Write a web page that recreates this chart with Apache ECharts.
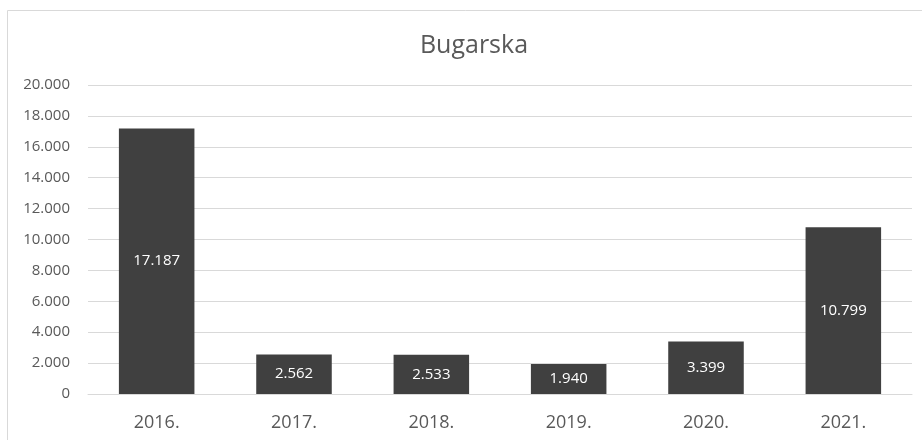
<!DOCTYPE html>
<html>
<head>
<meta charset="utf-8">
<script src="https://cdn.jsdelivr.net/npm/echarts@6/dist/echarts.min.js"></script>
<style>
  html, body { margin: 0; padding: 0; background: #fff; }
  #chart { width: 922px; height: 440px; }
</style>
</head>
<body>
<div id="chart"></div>
<script>
const years = ["2016.", "2017.", "2018.", "2019.", "2020.", "2021."];
const values = [17187, 2562, 2533, 1940, 3399, 10799];
const chartTitle = "Bugarska";

// 12345 -> "12.345"
function fmt(v) {
  return String(v).replace(/\B(?=(\d{3})+(?!\d))/g, ".");
}

var myChart = echarts.init(document.getElementById("chart"));
let option = {
  animation: false,
  textStyle: { fontFamily: "Open Sans" },
  title: {
    text: chartTitle,
    left: 469,
    top: 28,
    textAlign: "center",
    textStyle: { fontFamily: "Open Sans", fontSize: 25, fontWeight: "normal", color: "#595959" },
  },
  graphic: [
    {
      type: "rect",
      shape: { x: 7.5, y: 10.5, width: 930, height: 450 },
      style: { fill: "none", stroke: "#d9d9d9", lineWidth: 1 },
      silent: true,
    },
  ],
  grid: { left: 88, right: 10, top: 85, bottom: 46 },
  xAxis: {
    type: "category",
    data: years,
    axisLine: { lineStyle: { color: "#d9d9d9" } },
    axisTick: { show: false },
    axisLabel: { color: "#595959", fontSize: 18, fontFamily: "Open Sans", margin: 20 },
  },
  yAxis: {
    type: "value",
    min: 0,
    max: 20000,
    interval: 2000,
    axisLine: { show: false },
    axisTick: { show: false },
    splitLine: { lineStyle: { color: "#d9d9d9" } },
    axisLabel: {
      color: "#595959",
      fontSize: 15,
      fontFamily: "Open Sans",
      margin: 18,
      formatter: (v) => fmt(v),
    },
  },
  series: [
    {
      type: "bar",
      data: values,
      barWidth: "55%",
      itemStyle: { color: "#404040" },
      label: {
        show: true,
        position: "inside",
        color: "#ffffff",
        fontSize: 15,
        fontFamily: "Open Sans",
        formatter: (p) => fmt(p.value),
      },
    },
  ],
};
myChart.setOption(option);
</script>
</body>
</html>
